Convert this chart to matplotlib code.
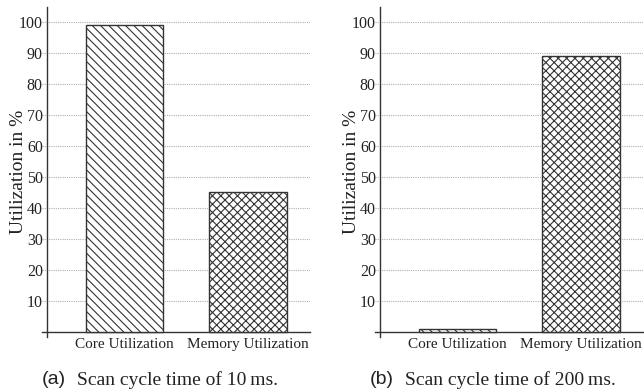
import matplotlib.pyplot as plt
import numpy as np

plt.rcParams['font.family'] = ['Liberation Serif', 'DejaVu Serif']
plt.rcParams['hatch.linewidth'] = 0.8

# data
categories = ["Core Utilization", "Memory Utilization"]
util_10ms = [99, 45]
util_200ms = [1, 89]
yticks = [10, 20, 30, 40, 50, 60, 70, 80, 90, 100]
captions = [("(a)", "Scan cycle time of 10\u2009ms."),
            ("(b)", "Scan cycle time of 200\u2009ms.")]
hatches = ["\\\\\\\\", "xxxx"]

fig = plt.figure(figsize=(6.44, 3.92), dpi=100)
W, H = 644, 392


def panel(left_px, values, cap, cap_x):
    ax = fig.add_axes([left_px / W, (H - 337) / H, 268 / W, 330 / H])
    x = np.arange(len(categories))
    for xi, v, h in zip(x, values, hatches):
        ax.bar(xi, v, width=0.625, color="white", edgecolor="#333333",
               hatch=h, linewidth=1.0, zorder=3)
    ax.set_xlim(-0.668, 1.502)
    ax.set_ylim(-1.6, 104.8)
    ax.spines['top'].set_visible(False)
    ax.spines['right'].set_visible(False)
    ax.spines['left'].set_position(('data', -0.628))
    ax.spines['bottom'].set_position(('data', 0))
    for s in ('left', 'bottom'):
        ax.spines[s].set_color("#333333")
        ax.spines[s].set_linewidth(1.0)
    ax.set_yticks(yticks)
    ax.set_xticks(x)
    ax.set_xticklabels(categories, fontsize=11)
    ax.tick_params(axis='both', length=0, colors="#222222")
    ax.tick_params(axis='y', labelsize=11.5, pad=3)
    ax.tick_params(axis='x', pad=4)
    ax.yaxis.grid(True, linestyle=(0, (1, 1)), color="#b0b0b0", linewidth=0.8, zorder=0)
    ax.set_axisbelow(True)
    ax.set_ylabel("Utilization in %", fontsize=14, color="#222222")
    ax.yaxis.set_label_coords(-0.056, 0.5)
    fig.text(cap_x - 95 / W, 1 - 380 / H, cap[0], family='Liberation Sans',
             fontsize=14, ha='left', va='center', color="#222222")
    fig.text(cap_x - 60 / W, 1 - 380 / H, cap[1], fontsize=14,
             ha='left', va='center', color="#222222")
    return ax


panel(42, util_10ms, captions[0], 137 / W)
panel(375, util_200ms, captions[1], 465 / W)

fig.savefig("out.png", dpi=100)
